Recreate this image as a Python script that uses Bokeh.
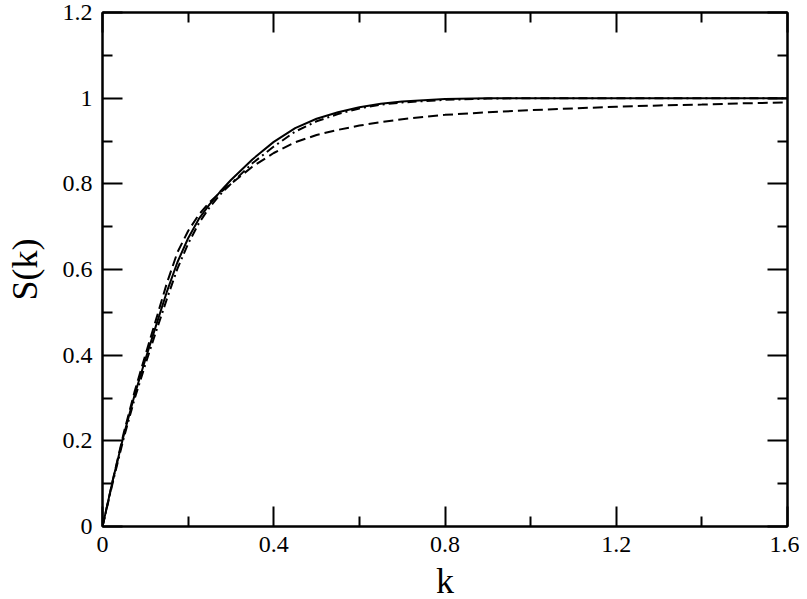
from bokeh.plotting import figure
from bokeh.models import FixedTicker, LinearAxis, Range1d
from bokeh.embed import file_html
from bokeh.resources import INLINE

# ---- data ----
k_vals = [0, 0.025, 0.05, 0.075, 0.1, 0.125, 0.15, 0.175, 0.2, 0.225, 0.25, 0.275,
          0.3, 0.35, 0.4, 0.45, 0.5, 0.55, 0.6, 0.65, 0.7, 0.8, 0.9, 1.0, 1.1, 1.2,
          1.3, 1.4, 1.5, 1.6]
s_solid = [0, 0.112, 0.215, 0.307, 0.39, 0.469, 0.547, 0.617, 0.673, 0.718, 0.752, 0.782,
           0.809, 0.857, 0.898, 0.93, 0.952, 0.967, 0.979, 0.987, 0.992, 0.998, 1.0, 1.0,
           1.0, 1.0, 1.0, 1.0, 1.0, 1.0]
s_dashed = [0, 0.112, 0.22, 0.315, 0.40, 0.483, 0.567, 0.64, 0.69, 0.728, 0.757, 0.78,
            0.80, 0.84, 0.872, 0.897, 0.914, 0.926, 0.936, 0.944, 0.951, 0.961, 0.967, 0.972,
            0.976, 0.980, 0.983, 0.985, 0.988, 0.990]
s_dashdot = [0, 0.107, 0.208, 0.298, 0.378, 0.455, 0.53, 0.602, 0.66, 0.708, 0.745, 0.775,
             0.80, 0.848, 0.887, 0.922, 0.946, 0.963, 0.976, 0.985, 0.99, 0.996, 0.999, 1.0,
             1.0, 1.0, 1.0, 1.0, 1.0, 1.0]

x_major = [0, 0.4, 0.8, 1.2, 1.6]
x_minor = [0.2, 0.6, 1.0, 1.4]
x_labels = ["0", "0.4", "0.8", "1.2", "1.6"]
y_major = [0, 0.2, 0.4, 0.6, 0.8, 1.0, 1.2]
y_minor = [0.1, 0.3, 0.5, 0.7, 0.9, 1.1]
y_labels = ["0", "0.2", "0.4", "0.6", "0.8", "1", "1.2"]

FONT = "Liberation Serif"

p = figure(frame_width=685, frame_height=514, output_backend="svg", toolbar_location=None,
           x_range=Range1d(0, 1.6), y_range=Range1d(0, 1.2),
           x_axis_location=None, y_axis_location=None,
           min_border_left=102, min_border_right=12, min_border_top=12, min_border_bottom=60)
p.grid.visible = False
p.outline_line_color = "black"
p.outline_line_width = 2
p.background_fill_color = "white"
p.border_fill_color = "white"


def make_axis(ticks, minor, labels, show_labels, title=None, title_standoff=4):
    ax = LinearAxis(ticker=FixedTicker(ticks=ticks, minor_ticks=minor))
    ax.axis_line_width = 2
    ax.major_tick_line_width = 2
    ax.minor_tick_line_width = 2
    ax.major_tick_in = 20
    ax.major_tick_out = 0
    ax.minor_tick_in = 10
    ax.minor_tick_out = 0
    if show_labels:
        ax.major_label_overrides = {t: l for t, l in zip(ticks, labels)}
        ax.major_label_text_font = FONT
        ax.major_label_text_font_size = "24px"
        ax.major_label_text_color = "black"
        ax.major_label_standoff = 10
    else:
        ax.major_label_text_font_size = "0px"
        ax.major_label_text_alpha = 0
        ax.major_label_standoff = 0
    if title:
        ax.axis_label = title
        ax.axis_label_text_font = FONT
        ax.axis_label_text_font_size = "36px"
        ax.axis_label_text_font_style = "normal"
        ax.axis_label_text_color = "black"
        ax.axis_label_standoff = title_standoff
    return ax


p.add_layout(make_axis(x_major, x_minor, x_labels, True, "k", 6), "below")
p.add_layout(make_axis(y_major, y_minor, y_labels, True, "S(k)", 15), "left")
p.add_layout(make_axis(x_major, x_minor, x_labels, False), "above")
p.add_layout(make_axis(y_major, y_minor, y_labels, False), "right")

p.line(k_vals, s_solid, line_color="black", line_width=2)
p.line(k_vals, s_dashed, line_color="black", line_width=2, line_dash="10 5")
p.line(k_vals, s_dashdot, line_color="black", line_width=2, line_dash="9 4 2 4")

open("out.html", "w").write(file_html(p, INLINE))
